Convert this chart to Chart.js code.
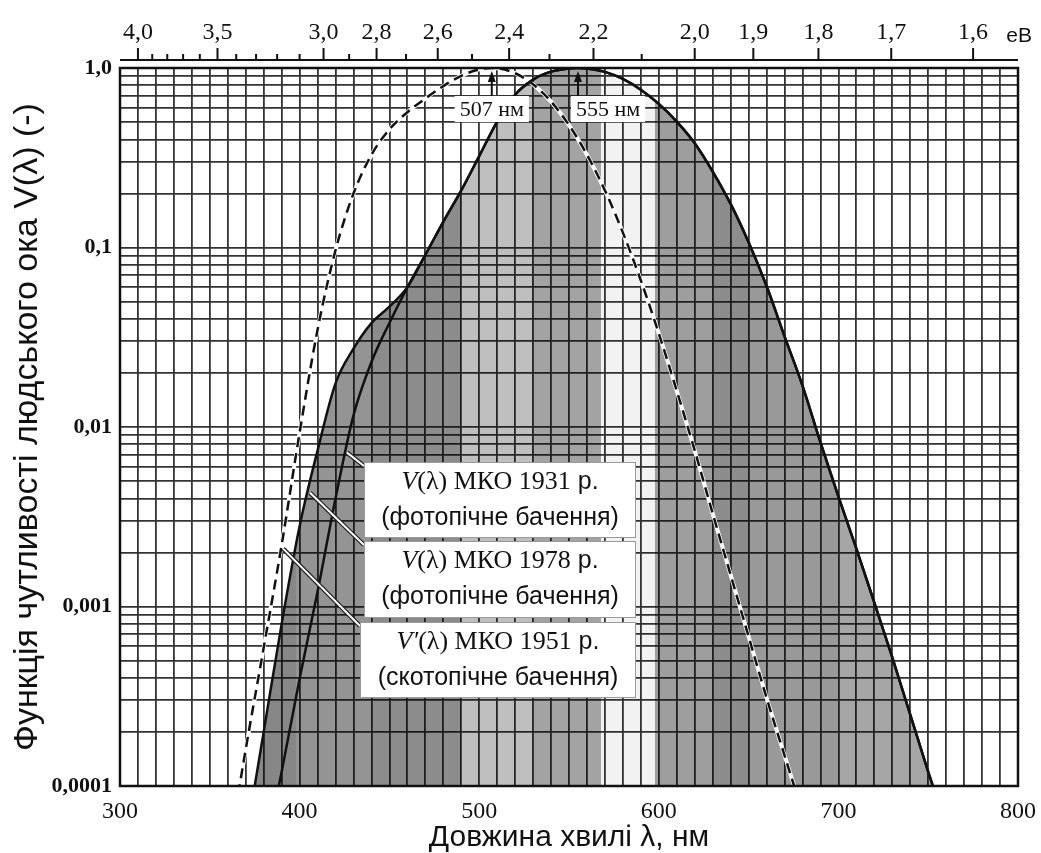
<!DOCTYPE html>
<html>
<head>
<meta charset="utf-8">
<script src="https://cdn.jsdelivr.net/npm/chart.js@4.4.0/dist/chart.umd.min.js"></script>
<style>
  html, body { margin: 0; padding: 0; background: #fff; }
  canvas { display: block; }
</style>
</head>
<body>
<canvas id="chart" width="1041" height="853"></canvas>
<script>
// V(λ) МКО 1931 - фотопічна крива
const photopicNm = [380, 390, 400, 410, 420, 430, 440, 450, 460, 470, 480, 490, 500, 510, 520, 530, 540, 550, 555,
  560, 570, 580, 590, 600, 610, 620, 630, 640, 650, 660, 670, 680, 690, 700, 710, 720, 730, 740, 750, 760];
const photopic1931 = [0.000039, 0.00012, 0.000396, 0.00121, 0.004, 0.0116, 0.023, 0.038, 0.06, 0.091, 0.139, 0.208,
  0.323, 0.503, 0.71, 0.862, 0.954, 0.995, 1.0, 0.995, 0.952, 0.87, 0.757, 0.631, 0.503, 0.381, 0.265, 0.175, 0.107,
  0.061, 0.032, 0.017, 0.0082, 0.0041, 0.0021, 0.00105, 0.00052, 0.00025, 0.00012, 0.00006];

// V(λ) МКО 1978 - відрізняється лише в синій області (далі збігається з 1931)
const photopic1978Nm = [370, 380, 390, 400, 410, 420, 430, 440, 450, 460];
const photopic1978 = [0.00005, 0.0002, 0.0008, 0.0028, 0.0074, 0.0175, 0.0273, 0.0379, 0.0468, 0.06];

// V'(λ) МКО 1951 - скотопічна крива
const scotopicNm = [360, 370, 380, 390, 400, 410, 420, 430, 440, 450, 460, 470, 480, 490, 500, 507, 510, 520, 530,
  540, 550, 560, 570, 580, 590, 600, 610, 620, 630, 640, 650, 660, 670, 680];
const scotopic1951 = [0.00004, 0.00016, 0.000589, 0.0022, 0.0093, 0.0348, 0.0966, 0.1998, 0.328, 0.455, 0.567,
  0.676, 0.793, 0.904, 0.982, 1.0, 0.997, 0.935, 0.811, 0.65, 0.481, 0.329, 0.208, 0.121, 0.0655, 0.0332, 0.0159,
  0.0074, 0.0033, 0.0015, 0.00068, 0.00031, 0.000148, 0.0000715];

// максимуми кривих
const peakNm = [507, 555];

// верхня шкала в еВ
const evTicks = [4.0, 3.9, 3.8, 3.7, 3.6, 3.5, 3.4, 3.3, 3.2, 3.1, 3.0, 2.9, 2.8, 2.7, 2.6, 2.5, 2.4, 2.3, 2.2, 2.1,
  2.0, 1.9, 1.8, 1.7, 1.6];
const evLabeled = [4.0, 3.5, 3.0, 2.8, 2.6, 2.4, 2.2, 2.0, 1.9, 1.8, 1.7, 1.6];

const nmTicks = [];
for (let v = 300; v <= 800; v += 10) nmTicks.push(v);
const logTicks = [];
for (let e = -4; e < 0; e++) for (let m = 1; m <= 9; m++) logTicks.push(m * Math.pow(10, e));
logTicks.push(1);
const yTickLabels = ['0,0001', '0,001', '0,01', '0,1', '1,0'];

const toPoints = (xs, ys) => xs.map((x, i) => ({ x, y: ys[i] }));
const pts1931 = toPoints(photopicNm, photopic1931);
const envelope = toPoints(photopic1978Nm, photopic1978).concat(pts1931.filter(p => p.x > 460));
const ptsScot = toPoints(scotopicNm, scotopic1951);

// відтінки сірого під кривою (спектр у відтінках сірого)
const spectrumBands = [[398, 0.47], [440, 0.42], [490, 0.45], [530, 0.25], [568, 0.36], [598, 0.05],
  [630, 0.38], [651, 0.45], [700, 0.4], [800, 0.35]];

function spectrumFill(context) {
  const chart = context.chart;
  const { chartArea, scales } = chart;
  if (!chartArea) return 'rgba(0,0,0,0.4)';
  const x0 = scales.x.getPixelForValue(300);
  const x1 = scales.x.getPixelForValue(800);
  const g = chart.ctx.createLinearGradient(x0, 0, x1, 0);
  let prev = 300;
  spectrumBands.forEach(([end, a]) => {
    g.addColorStop((prev - 300) / 500, 'rgba(0,0,0,' + a + ')');
    g.addColorStop((end - 300) / 500, 'rgba(0,0,0,' + a + ')');
    prev = end;
  });
  return g;
}

const SERIF = '"Liberation Serif", "Times New Roman", serif';
const SANS = '"Liberation Sans", Arial, sans-serif';

const notes = [
  { name: 'V', rest: '(λ) МКО 1931', sub: '(фотопічне бачення)', from: [426.4, 0.0072], box: [364, 462, 636, 538] },
  { name: 'V', rest: '(λ) МКО 1978', sub: '(фотопічне бачення)', from: [405.8, 0.0043], box: [364, 541, 636, 618] },
  { name: 'V′', rest: '(λ) МКО 1951', sub: '(скотопічне бачення)', from: [390.8, 0.0021], box: [360, 622, 636, 698] }
];

// горизонтальні шкали не повинні звужувати область графіка
const noSidePadding = s => { s.paddingLeft = 0; s.paddingRight = 0; };

const overlay = {
  id: 'overlay',
  afterDatasetsDraw(chart) {
    const { ctx, chartArea: a, scales } = chart;
    const px = nm => scales.x.getPixelForValue(nm);
    const py = v => scales.y.getPixelForValue(v);
    ctx.save();

    // рамка
    ctx.strokeStyle = '#111';
    ctx.lineWidth = 2.5;
    ctx.strokeRect(a.left, a.top, a.right - a.left, a.bottom - a.top);

    // шкала еВ
    const axisY = a.top - 8;
    ctx.lineWidth = 2;
    ctx.beginPath();
    ctx.moveTo(a.left, axisY);
    ctx.lineTo(a.right, axisY);
    evTicks.forEach(e => {
      const x = scales.xTop.getPixelForValue(1240 / e);
      ctx.moveTo(x, axisY);
      ctx.lineTo(x, axisY - (evLabeled.includes(e) ? 12 : 6));
    });
    ctx.stroke();
    ctx.fillStyle = '#111';
    ctx.font = '21px ' + SANS;
    ctx.textAlign = 'right';
    ctx.textBaseline = 'middle';
    ctx.fillText('еВ', a.right + 14, 36);

    // максимуми 507 / 555 нм
    ctx.font = '22px ' + SERIF;
    peakNm.forEach((nm, i) => {
      const x = px(nm);
      const text = nm + ' нм';
      const w = ctx.measureText(text).width + 10;
      const bx = i === 0 ? x - w / 2 : x - 7;
      ctx.fillStyle = '#fff';
      ctx.fillRect(bx, a.top + 28, w, 26);
      ctx.fillStyle = '#111';
      ctx.textAlign = 'left';
      ctx.fillText(text, bx + 5, a.top + 42);
      ctx.strokeStyle = '#111';
      ctx.lineWidth = 2;
      ctx.beginPath();
      ctx.moveTo(x, a.top + 28);
      ctx.lineTo(x, a.top + 10);
      ctx.stroke();
      ctx.beginPath();
      ctx.moveTo(x, a.top + 3);
      ctx.lineTo(x - 4, a.top + 14);
      ctx.lineTo(x + 4, a.top + 14);
      ctx.closePath();
      ctx.fill();
    });

    // підписи кривих
    notes.forEach(n => {
      const [l, t, r, b] = n.box;
      const sx = px(n.from[0]), sy = py(n.from[1]);
      const ex = l, ey = t + 4;
      ctx.lineCap = 'butt';
      ctx.strokeStyle = '#222';
      ctx.lineWidth = 4.5;
      ctx.beginPath(); ctx.moveTo(sx, sy); ctx.lineTo(ex, ey); ctx.stroke();
      ctx.strokeStyle = '#fff';
      ctx.lineWidth = 2;
      ctx.beginPath(); ctx.moveTo(sx, sy); ctx.lineTo(ex, ey); ctx.stroke();

      ctx.fillStyle = '#fff';
      ctx.fillRect(l, t, r - l, b - t);
      ctx.strokeStyle = '#999';
      ctx.lineWidth = 1;
      ctx.strokeRect(l + 0.5, t + 0.5, r - l - 1, b - t - 1);

      const cx = (l + r) / 2;
      const f1 = 'italic 26px ' + SERIF, f2 = '26px ' + SERIF, f3 = '25px ' + SANS;
      ctx.font = f1; const w1 = ctx.measureText(n.name).width;
      ctx.font = f2; const w2 = ctx.measureText(n.rest).width;
      ctx.font = f3; const w3 = ctx.measureText(' р.').width;
      let tx = cx - (w1 + w2 + w3) / 2;
      const ty = t + 20;
      ctx.fillStyle = '#111';
      ctx.textAlign = 'left';
      ctx.textBaseline = 'middle';
      ctx.font = f1; ctx.fillText(n.name, tx, ty); tx += w1;
      ctx.font = f2; ctx.fillText(n.rest, tx, ty); tx += w2;
      ctx.font = f3; ctx.fillText(' р.', tx, ty);
      ctx.textAlign = 'center';
      ctx.fillText(n.sub, cx, t + 56);
    });
    ctx.restore();
  }
};

new Chart(document.getElementById('chart'), {
  type: 'line',
  data: {
    datasets: [
      {
        label: 'V(λ) МКО 1978',
        data: envelope,
        borderColor: '#111',
        borderWidth: 2.5,
        backgroundColor: spectrumFill,
        fill: 'start',
        pointRadius: 0,
        cubicInterpolationMode: 'monotone',
        order: 4
      },
      {
        label: 'underlay',
        data: ptsScot,
        borderColor: '#fff',
        borderWidth: 4,
        pointRadius: 0,
        fill: false,
        cubicInterpolationMode: 'monotone',
        order: 3
      },
      {
        label: "V'(λ) МКО 1951",
        data: ptsScot,
        borderColor: '#111',
        borderWidth: 2.5,
        borderDash: [10, 6],
        pointRadius: 0,
        fill: false,
        cubicInterpolationMode: 'monotone',
        order: 2
      },
      {
        label: 'V(λ) МКО 1931',
        data: pts1931,
        borderColor: '#111',
        borderWidth: 2.5,
        pointRadius: 0,
        fill: false,
        cubicInterpolationMode: 'monotone',
        order: 1
      }
    ]
  },
  options: {
    responsive: false,
    animation: false,
    layout: { padding: { left: 0, right: 23, top: 0, bottom: 0 } },
    plugins: { legend: { display: false }, tooltip: { enabled: false } },
    scales: {
      x: {
        type: 'linear',
        position: 'bottom',
        min: 300,
        max: 800,
        afterBuildTicks: s => { s.ticks = nmTicks.map(v => ({ value: v })); },
        afterFit: s => { s.height = 67; noSidePadding(s); },
        ticks: {
          autoSkip: false,
          maxRotation: 0,
          padding: 11,
          color: '#111',
          font: { family: SERIF, size: 24 },
          callback: v => (v % 100 === 0 ? String(v) : '')
        },
        grid: { color: '#333', lineWidth: 1.8, drawTicks: false },
        border: { display: false },
        title: {
          display: true,
          text: 'Довжина хвилі λ, нм',
          color: '#111',
          font: { family: SANS, size: 30, lineHeight: 1 },
          padding: { top: 0, bottom: 0 }
        }
      },
      xTop: {
        type: 'linear',
        position: 'top',
        min: 300,
        max: 800,
        afterBuildTicks: s => { s.ticks = evTicks.map(e => ({ value: 1240 / e })); },
        afterFit: s => { s.height = 68; noSidePadding(s); },
        ticks: {
          autoSkip: false,
          maxRotation: 0,
          padding: 21,
          color: '#111',
          font: { family: SERIF, size: 24 },
          callback: (v, i) => (evLabeled.includes(evTicks[i]) ? evTicks[i].toFixed(1).replace('.', ',') : '')
        },
        grid: { display: false, drawTicks: false },
        border: { display: false }
      },
      y: {
        type: 'logarithmic',
        min: 0.0001,
        max: 1,
        afterBuildTicks: s => { s.ticks = logTicks.map(v => ({ value: v })); },
        afterFit: s => { s.width = 120; },
        ticks: {
          autoSkip: false,
          padding: 8,
          color: '#111',
          font: { family: SERIF, size: 22, weight: 'bold' },
          callback: v => {
            const e = Math.log10(v);
            return Math.abs(e - Math.round(e)) < 1e-6 ? yTickLabels[Math.round(e) + 4] : '';
          }
        },
        grid: { color: '#333', lineWidth: 1.8, drawTicks: false },
        border: { display: false },
        title: {
          display: true,
          text: 'Функція чутливості людського ока V(λ) (-)',
          color: '#111',
          font: { family: SANS, size: 34, lineHeight: 1 },
          padding: { top: 11, bottom: 0 }
        }
      }
    }
  },
  plugins: [overlay]
});
</script>
</body>
</html>
